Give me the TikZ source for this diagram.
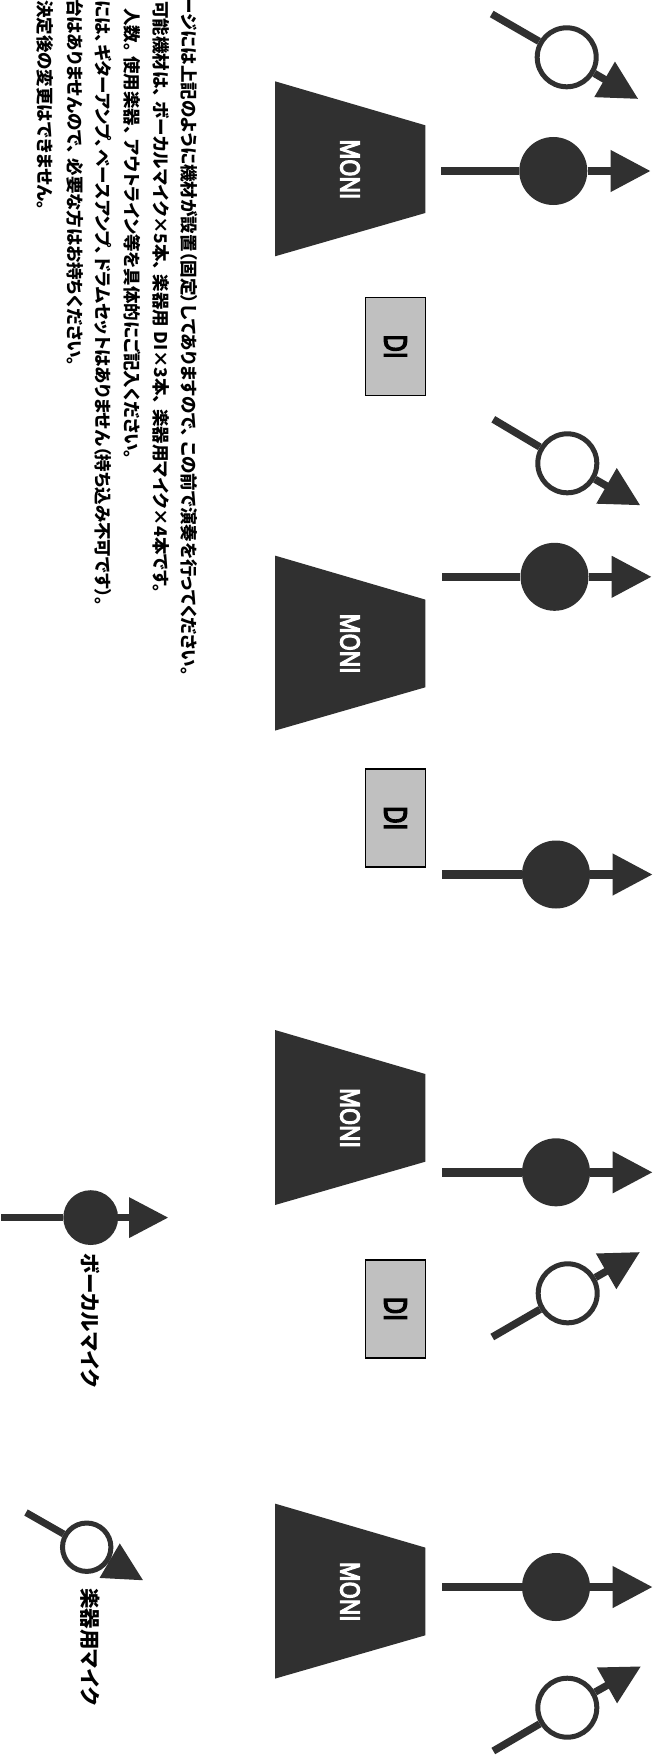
\documentclass[tikz,border=0pt]{standalone}
\usepackage{fontspec}
\setmainfont[RawFeature={+palt}]{Noto Sans CJK JP}
\newfontfamily\lblfont[FakeBold=6]{Open Sans}
\usetikzlibrary{arrows.meta,shapes.geometric}
\definecolor{ink}{HTML}{303030}
\definecolor{digrey}{HTML}{C0C0C0}
\newcommand{\tc}{\hspace{.25em}}
\newcommand{\micdraw}[9]{%
  \node[#2] (#1c) at (#5,#6) {};
  \coordinate (#1s) at (#3,#4);
  \coordinate (#1t) at (#7,#8);
  \draw[micline,#9line] (#1s) -- (#1c);
  \draw[micline,#9line,#9tip] (#1c) -- (#1t);
}
\newcommand{\moni}[2]{%
  \fill[ink] (275,#2-88) -- (425.3,#2-44) -- (425.3,#2+43.7) -- (275,#2+87) -- cycle;
  \node[monilabel] (#1) at (350,#2) {\scalebox{1}[1.18]{MONI}};
}
\newcommand{\dibox}[2]{%
  \node[dibox] (#1) at (395.5,#2) {\rotatebox{-90}{\scalebox{1}[1.27]{DI}}};
}
\tikzset{
  micline/.style={draw=ink,fill=ink},
  vline/.style={line width=8.4pt},
  vtip/.style={-{Triangle[length=40pt,width=39.6pt]}},
  hline/.style={line width=7.4pt},
  htip/.style={-{Triangle[length=39pt,width=39pt]}},
  lvline/.style={line width=7pt},
  lvtip/.style={-{Triangle[length=39.3pt,width=39pt]}},
  liline/.style={line width=7pt},
  litip/.style={-{Triangle[length=39pt,width=38pt]}},
  vocal/.style={circle,fill=ink,inner sep=0pt,minimum size=68pt},
  instr/.style={circle,draw=ink,line width=5pt,fill=white,inner sep=0pt,minimum size=59pt},
  vocalleg/.style={circle,fill=ink,inner sep=0pt,minimum size=54.8pt},
  instrleg/.style={circle,draw=ink,line width=5pt,fill=white,inner sep=0pt,minimum size=48.4pt},
  monilabel/.style={rotate=-90,text=white,inner sep=0pt,font=\lblfont\fontsize{22}{22}\selectfont},
  dibox/.style={draw=black,line width=1.8pt,fill=digrey,minimum width=60pt,minimum height=98pt,inner sep=0pt,font=\lblfont\fontsize{24}{24}\selectfont},
  note/.style={rotate=-90,anchor=west,inner sep=0pt,text=black,font=\bfseries\fontsize{17.5}{17.5}\selectfont},
  legend/.style={rotate=-90,anchor=west,inner sep=0pt,text=black,font=\bfseries\fontsize{20.5}{20.5}\selectfont},
}
\begin{document}
\begin{tikzpicture}[x=1pt,y=-1pt]
\useasboundingbox (0,0) rectangle (656,1755);
\clip (0,0) rectangle (656,1755);
\fill[white] (0,0) rectangle (656,1755);
% notes
\node[note] (n1) at (189,-3) {ージには上記のように機材が設置（固定）してありますので、\tc この前で演奏を行ってください。};
\node[note] (n2) at (161,1) {可能機材は、\tc ボーカルマイク×5本、\tc 楽器用 DI×3本、\tc 楽器用マイク×4本です。};
\node[note] (n3) at (132,8) {人数。\tc 使用楽器、\tc アウトライン等を具体的にご記入ください。};
\node[note] (n4) at (103,0) {には、\hspace{.08em}ギターアンプ、\hspace{.08em}ベースアンプ、\hspace{.08em}ドラムセットはありません（持ち込み不可です）。};
\node[note] (n5) at (75,-1) {台はありませんので、\tc 必要な方はお持ちください。};
\node[note] (n6) at (45,0) {決定後の変更はできません。};
% monitors
\moni{m1}{169.3}
\moni{m2}{643.6}
\moni{m3}{1118}
\moni{m4}{1591.6}
% DI boxes
\dibox{d1}{346.5}
\dibox{d2}{818.2}
\dibox{d3}{1308.8}
% vocal mics
\micdraw{v1}{vocal}{441}{171}{553.3}{171}{650.7}{171}{v}
\micdraw{v2}{vocal}{442.3}{576.8}{554.5}{576.8}{651.7}{576.8}{v}
\micdraw{v3}{vocal}{442}{874.5}{556}{874.5}{652.7}{874.5}{v}
\micdraw{v4}{vocal}{442}{1172.3}{556}{1172.3}{652.7}{1172.3}{v}
\micdraw{v5}{vocal}{442}{1587}{556}{1587}{652.7}{1587}{v}
% instrument mics
\micdraw{h1}{instr}{491.7}{14}{566.7}{57.3}{638.3}{99}{h}
\micdraw{h2}{instr}{493.3}{419.3}{567.3}{463.3}{640.3}{505.3}{h}
\micdraw{h3}{instr}{492.3}{1337}{567.7}{1293.3}{640}{1252}{h}
\micdraw{h4}{instr}{493.3}{1751}{567.3}{1707.7}{641}{1666.3}{h}
% legend
\micdraw{lv}{vocalleg}{1}{1217.6}{90.7}{1217.6}{168.3}{1217.6}{lv}
\micdraw{li}{instrleg}{26}{1512.5}{86.7}{1547.2}{143.3}{1580.4}{li}
\node[legend] (l1) at (90,1253) {ボーカルマイク};
\node[legend] (l2) at (90,1588) {楽器用マイク};
\end{tikzpicture}
\end{document}
